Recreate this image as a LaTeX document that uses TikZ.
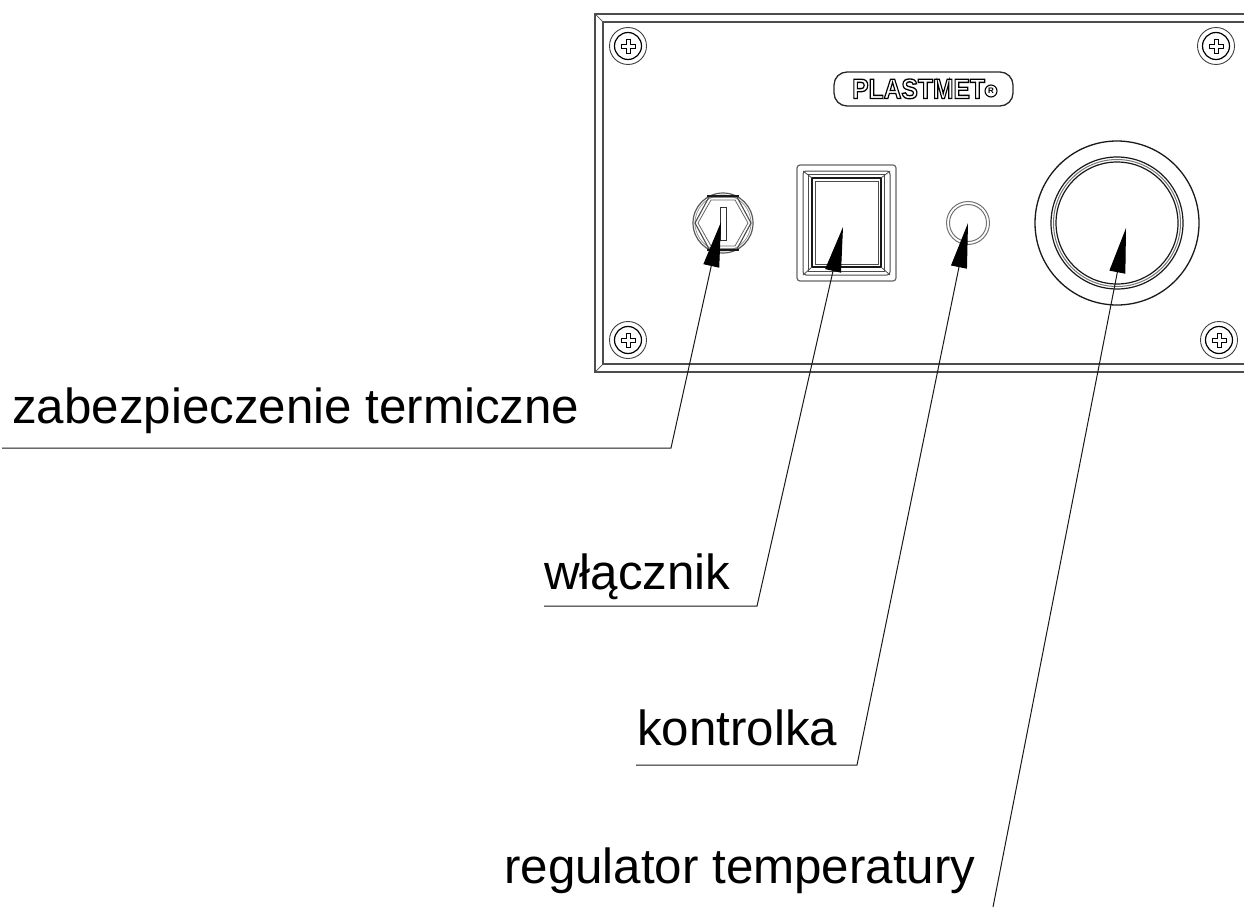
\documentclass[tikz,border=0pt]{standalone}
\usepackage{fontspec}
\setmainfont{Liberation Sans}
\usetikzlibrary{arrows.meta}
\tikzset{
  label text/.style={anchor=base west,inner sep=0pt,font=\fontsize{49.3}{49.3}\selectfont},
  leader/.style={line width=1pt,black!90,-{Triangle[length=45pt,width=16pt,color=black]}},
  panel line/.style={line width=1.4pt,black!70},
  grey ring/.style={draw=black!55,line width=1pt},
  dark ring/.style={draw=black!90,line width=1.2pt},
  screwouter/.style={circle,draw=black!75,line width=0.9pt,minimum size=37pt,inner sep=0pt},
  screwinner/.style={circle,draw=black,line width=1.2pt,minimum size=27pt,inner sep=0pt}
}
\newcommand{\screwat}[2]{%
  \node[screwouter] (#2o) at (#1) {};
  \node[screwinner] (#2i) at (#1) {};
  \draw[line width=0.9pt,black,shift={(#1)}]
    (-2,-7) -- (2,-7) -- (2,-2) -- (7,-2) -- (7,2) -- (2,2) -- (2,7) -- (-2,7) -- (-2,2) -- (-7,2) -- (-7,-2) -- (-2,-2) -- cycle;
}
\begin{document}
\begin{tikzpicture}[x=1pt,y=-1pt]
\useasboundingbox (0,0) rectangle (1244,907);
% panel
\draw[panel line] (1244,14) -- (595,14) -- (595,372) -- (1244,372);
\draw[panel line] (1244,22) -- (603,22) -- (603,364) -- (1244,364);
\draw[line width=0.7pt,black!70] (595,14) -- (603,22) (595,372) -- (603,364);
% screws
\screwat{628,46}{sa}
\screwat{1216,46}{sb}
\screwat{628,340}{sc}
\screwat{1219,340}{sd}
% logo
\draw[line width=1.3pt,black!85,rounded corners=13pt] (834,72) rectangle (1013,106);
\node[inner sep=0pt,anchor=base west,font=\fontsize{28}{28}\bfseries\selectfont,xscale=0.88,transform shape] (logo) at (852,98.5)
  {\special{pdf:code 1 Tr 1.3 w}PLASTMET\special{pdf:code 0 Tr 1 w}};
\node[inner sep=0pt,circle,draw=black,line width=1.1pt,minimum size=12pt,font=\fontsize{8}{8}\bfseries\selectfont] (reg) at (991,91) {R};
% fuse
\node[circle,draw=black!65,line width=1.2pt,minimum size=60pt,inner sep=0pt] (fuse) at (723,223) {};
\node[circle,draw=black!40,line width=0.8pt,minimum size=56pt,inner sep=0pt] (fusei) at (723,223) {};
\draw[line width=1.1pt,black!70] (709,197) -- (737,197) -- (751,223) -- (737,249) -- (709,249) -- (695,223) -- cycle;
\draw[line width=0.8pt,black!60] (711,200) -- (735,200) -- (748,223) -- (735,246) -- (711,246) -- (698,223) -- cycle;
\draw[line width=1.6pt,black!90] (707,196) -- (739,196) (707,250) -- (739,250);
\draw[line width=0.9pt,black!80] (720,207) rectangle (726,240);
% switch
\draw[line width=1.2pt,black!60,rounded corners=3pt] (797,165) rectangle (896,281);
\draw[line width=1pt,black!70,rounded corners=3pt] (803,171) rectangle (890,275);
\draw[line width=1pt,black!70] (808,174) rectangle (884,271);
\draw[line width=1.3pt,black!90] (812,178) rectangle (881,267);
\draw[line width=1pt,black!70] (815,181) rectangle (878,264);
\draw[line width=0.8pt,black!70] (803,171) -- (812,178) (890,171) -- (881,178) (803,275) -- (812,267) (890,275) -- (881,267);
\node[minimum width=99pt,minimum height=116pt,inner sep=0pt] (switch) at (846.5,223) {};
% lamp
\node[circle,grey ring,minimum size=43pt,inner sep=0pt] (lamp) at (968,223) {};
\node[circle,grey ring,minimum size=37pt,inner sep=0pt] (lampi) at (968,223) {};
% regulator
\node[circle,dark ring,line width=1.3pt,minimum size=164pt,inner sep=0pt] (regulator) at (1117,223) {};
\node[circle,dark ring,minimum size=132pt,inner sep=0pt] (ringa) at (1117,223) {};
\node[circle,grey ring,minimum size=127pt,inner sep=0pt] (ringb) at (1117,223) {};
\node[circle,dark ring,minimum size=122pt,inner sep=0pt] (ringc) at (1117,223) {};
% labels
\node[label text] (l1) at (12,423) {zabezpieczenie termiczne};
\node[label text] (l2) at (544,589) {włącznik};
\node[label text] (l3) at (637,745) {kontrolka};
\node[label text] (l4) at (504,883) {regulator temperatury};
% leader points
\coordinate (a0) at (2,448);
\coordinate (a1) at (671,448);
\coordinate (a2) at (721,222);
\coordinate (b0) at (544,606);
\coordinate (b1) at (757,606);
\coordinate (b2) at (843,227);
\coordinate (c0) at (636,765);
\coordinate (c1) at (857,765);
\coordinate (c2) at (968,223);
\coordinate (d1) at (993,907);
\coordinate (d2) at (1126,228);
\draw[leader] (a0) -- (a1) -- (a2);
\draw[leader] (b0) -- (b1) -- (b2);
\draw[leader] (c0) -- (c1) -- (c2);
\draw[leader] (d1) -- (d2);
\end{tikzpicture}
\end{document}
